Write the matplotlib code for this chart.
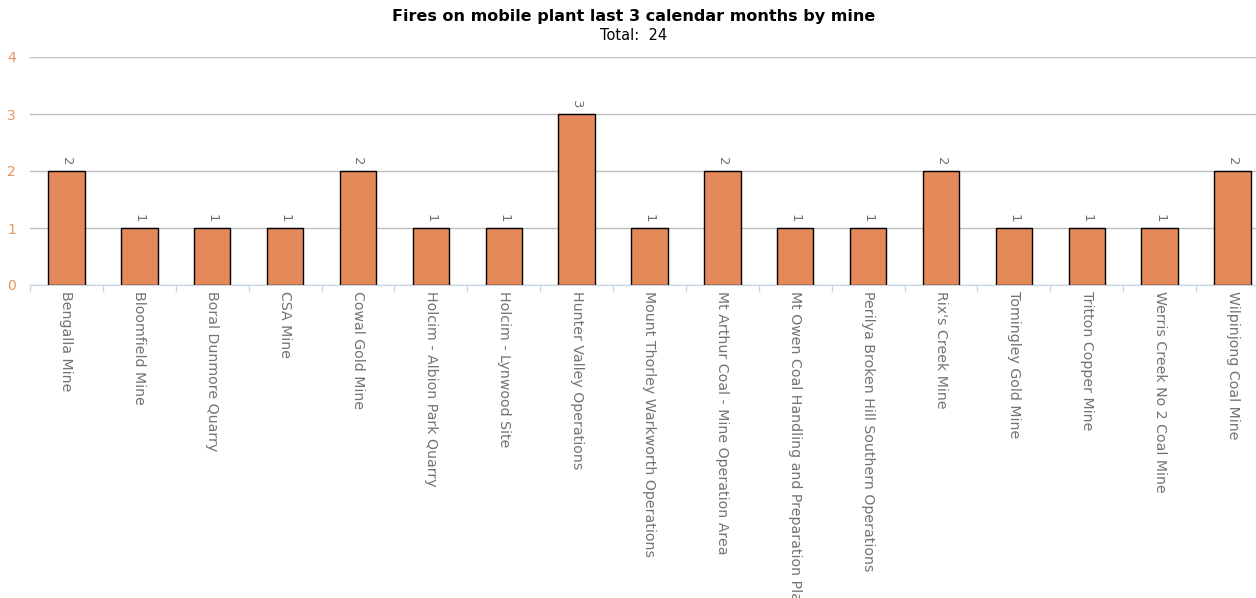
import numpy as np
import matplotlib.pyplot as plt

mines = ['Bengalla Mine', 'Bloomfield Mine', 'Boral Dunmore Quarry', 'CSA Mine',
         'Cowal Gold Mine', 'Holcim - Albion Park Quarry', 'Holcim - Lynwood Site',
         'Hunter Valley Operations', 'Mount Thorley Warkworth Operations',
         'Mt Arthur Coal - Mine Operation Area',
         'Mt Owen Coal Handling and Preparation Plant',
         'Perilya Broken Hill Southern Operations', "Rix's Creek Mine",
         'Tomingley Gold Mine', 'Tritton Copper Mine', 'Werris Creek No 2 Coal Mine',
         'Wilpinjong Coal Mine']
fires = [2, 1, 1, 1, 2, 1, 1, 3, 1, 2, 1, 1, 2, 1, 1, 1, 2]

W, H = 1256, 598
fig = plt.figure(figsize=(W / 100, H / 100), dpi=100)
ax = fig.add_axes([30 / W, 1 - 285 / H, 1239 / W, 228 / H])

x = np.arange(len(mines))
ax.bar(x, fires, width=0.5, color='#e3895a', edgecolor='black', linewidth=1, zorder=3)

for xi, v in zip(x, fires):
    ax.text(xi, v + 0.09, str(v), rotation=270, ha='center', va='bottom',
            fontsize=9.5, color='#707070')

ax.set_xlim(-0.5, len(mines) - 0.5)
ax.set_ylim(0, 4)
ax.set_yticks([0, 1, 2, 3, 4])
ax.tick_params(axis='y', length=0, labelcolor='#e8935a', labelsize=10, pad=10)
ax.grid(axis='y', color='#c0c0c0', linewidth=1, zorder=0)

ax.set_xticks(x)
ax.set_xticklabels(mines, rotation=270, fontsize=10.2, color='#737373')
ax.tick_params(axis='x', which='major', length=0, pad=4)
ax.set_xticks(np.arange(len(mines) + 1) - 0.5, minor=True)
ax.tick_params(axis='x', which='minor', length=5, color='#c6d6e6', width=1)

for s in ['left', 'right', 'top']:
    ax.spines[s].set_visible(False)
ax.spines['bottom'].set_color('#c6d6e6')
ax.spines['bottom'].set_zorder(4)

fig.text(0.5045, 1 - 16 / H, 'Fires on mobile plant last 3 calendar months by mine',
         ha='center', va='center', fontsize=11.5, fontweight='bold')
fig.text(0.5045, 1 - 36 / H, 'Total:  24', ha='center', va='center', fontsize=10.5)

fig.savefig('out.png', dpi=100)
